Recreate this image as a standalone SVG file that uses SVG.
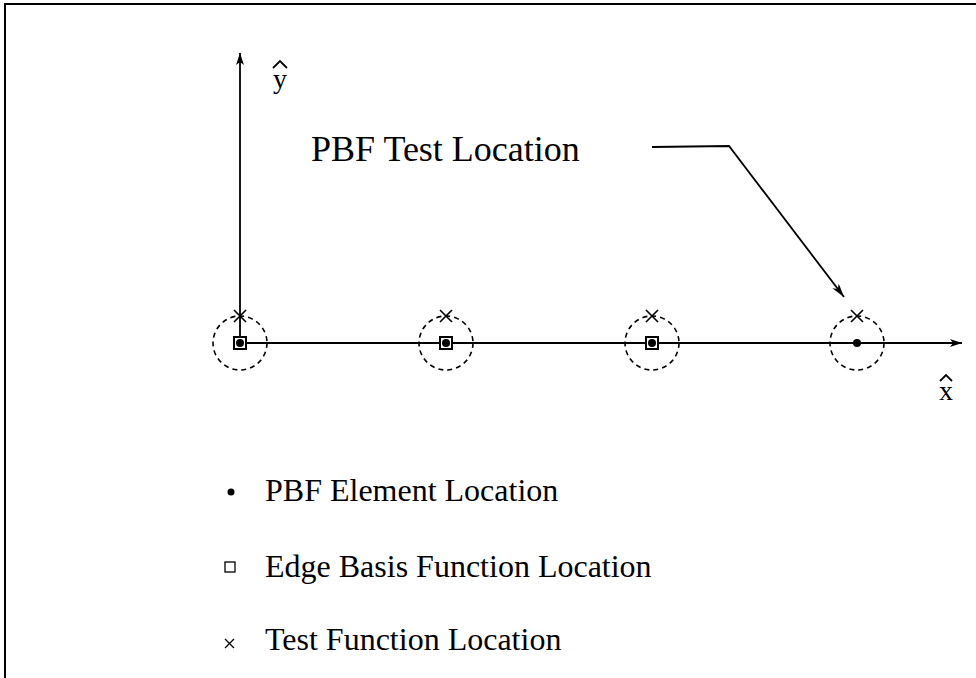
<svg xmlns="http://www.w3.org/2000/svg" width="976" height="678" viewBox="0 0 976 678">
  <style>
    .txt { font-family: "Liberation Serif", "Times New Roman", serif; fill: #000; }
    .axis { stroke: #000; stroke-width: 1.8; fill: none; }
    .zone { stroke: #000; stroke-width: 1.6; fill: none; stroke-dasharray: 5 4; }
    .cross { stroke: #000; stroke-width: 1.6; fill: none; }
    .box { stroke: #000; stroke-width: 2; fill: #fff; }
    .dot { fill: #000; }
  </style>
  <defs>
    <marker id="arrowY" viewBox="0 0 12 8" refX="12" refY="4" markerWidth="12" markerHeight="8" markerUnits="userSpaceOnUse" orient="auto">
      <path d="M0,0 L12,4 L0,8 L3,4 Z" fill="#000"/>
    </marker>
    <marker id="arrowLead" viewBox="0 0 14 8" refX="14" refY="4" markerWidth="14" markerHeight="8" markerUnits="userSpaceOnUse" orient="auto">
      <path d="M0,0 L14,4 L0,8 L4,4 Z" fill="#000"/>
    </marker>
  </defs>

  <!-- frame -->
  <path d="M5,678 L5,4 L976,4" stroke="#000" stroke-width="2" fill="none"/>

  <!-- axes and leader line -->
  <g id="connectors">
    <line class="axis" x1="240" y1="343" x2="240" y2="53" marker-end="url(#arrowY)"/>
    <line class="axis" x1="240" y1="343" x2="962" y2="343" marker-end="url(#arrowY)"/>
    <polyline class="axis" points="652,147 729,146 844,297" stroke-width="1.5" marker-end="url(#arrowLead)"/>
  </g>

  <!-- axis labels -->
  <g id="y-label">
    <text class="txt" x="280" y="88" font-size="28" text-anchor="middle">y</text>
    <path d="M273,68 L280,61 L287,68" stroke="#000" stroke-width="1.8" fill="none"/>
  </g>
  <g id="x-label">
    <text class="txt" x="946" y="400" font-size="28" text-anchor="middle">x</text>
    <path d="M940,381 L946,375 L952,381" stroke="#000" stroke-width="1.8" fill="none"/>
  </g>

  <!-- element sites -->
  <g id="site1">
    <circle class="zone" cx="240" cy="343" r="27"/>
    <rect class="box" x="234" y="337" width="12" height="12"/>
    <circle class="dot" cx="240" cy="343" r="4"/>
    <path class="cross" d="M234,310 L246,322 M246,310 L234,322"/>
  </g>
  <g id="site2">
    <circle class="zone" cx="446" cy="343" r="27"/>
    <rect class="box" x="440" y="337" width="12" height="12"/>
    <circle class="dot" cx="446" cy="343" r="4"/>
    <path class="cross" d="M440,310 L452,322 M452,310 L440,322"/>
  </g>
  <g id="site3">
    <circle class="zone" cx="652" cy="343" r="27"/>
    <rect class="box" x="646" y="337" width="12" height="12"/>
    <circle class="dot" cx="652" cy="343" r="4"/>
    <path class="cross" d="M646,310 L658,322 M658,310 L646,322"/>
  </g>
  <g id="site4">
    <circle class="zone" cx="857" cy="343" r="27"/>
    <circle class="dot" cx="857" cy="343" r="4"/>
    <path class="cross" d="M851,310 L863,322 M863,310 L851,322"/>
  </g>

  <!-- annotation -->
  <g id="test-label">
    <text class="txt" x="311" y="161" font-size="36">PBF Test Location</text>
  </g>

  <!-- legend -->
  <g id="legend">
    <circle class="dot" cx="231" cy="492" r="3.5"/>
    <text class="txt" x="265" y="501" font-size="32">PBF Element Location</text>
    <rect x="225" y="562" width="10" height="10" stroke="#000" stroke-width="1.3" fill="none"/>
    <text class="txt" x="265" y="577" font-size="32">Edge Basis Function Location</text>
    <path d="M225,639 L234,648 M234,639 L225,648" stroke="#000" stroke-width="1.3" fill="none"/>
    <text class="txt" x="265" y="650" font-size="32">Test Function Location</text>
  </g>
</svg>
